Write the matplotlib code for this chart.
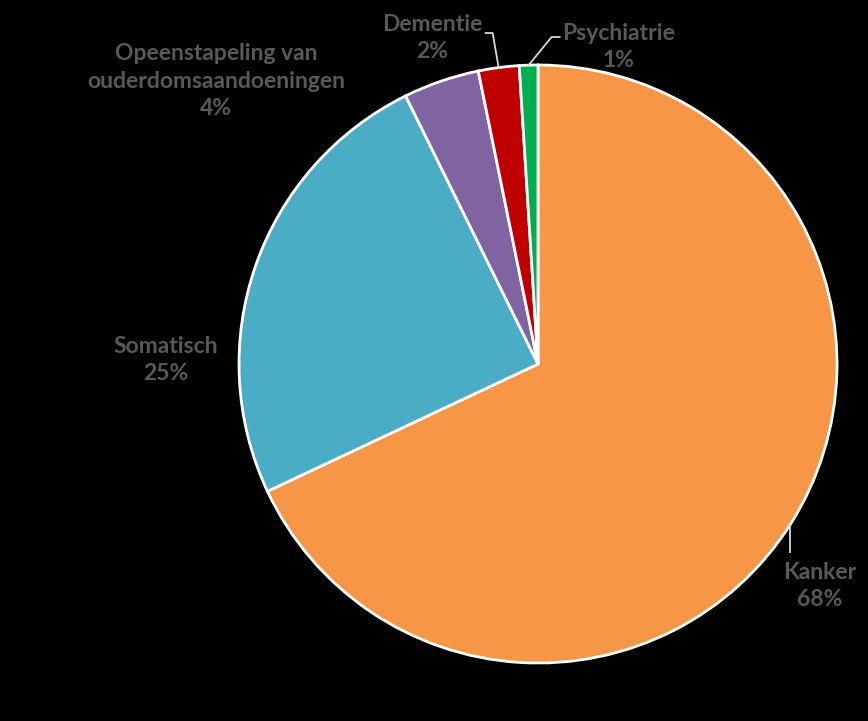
import numpy as np
import matplotlib
matplotlib.use("Agg")
import matplotlib.pyplot as plt

# data (slice sizes, labels show rounded values)
labels = ["Kanker", "Somatisch", "Opeenstapeling van\nouderdomsaandoeningen", "Dementie", "Psychiatrie"]
values = [68.0, 24.7, 4.1, 2.2, 1.0]
colors = ["#F79646", "#4BACC6", "#8064A2", "#C00000", "#00B050"]

W, H = 868, 721
fig = plt.figure(figsize=(W / 100, H / 100), dpi=100, facecolor="black")
ax = fig.add_axes([0, 0, 1, 1])
ax.set_facecolor("black")

cx, cy, r = 538, H - 364, 299
wedges, _ = ax.pie(values, colors=colors, startangle=90, counterclock=False,
                   center=(cx, cy), radius=r, frame=True,
                   wedgeprops=dict(edgecolor="white", linewidth=2))
ax.set_xlim(0, W)
ax.set_ylim(0, H)
ax.set_aspect("equal")
ax.axis("off")

text_kw = dict(color="#595959", fontsize=16.5, fontweight="bold", family="Lato",
               ha="center", va="center", linespacing=1.41)

# label text positions (pixels from top-left)
label_pos = [(820, 586), (166, 360), (216, 81), (432, 38), (619, 47)]
for w, lab, v, (lx, ly) in zip(wedges, labels, values, label_pos):
    ax.text(lx, H - ly, "{}\n{:.0f}%".format(lab, v), **text_kw)

def edge_point(w):
    a = np.deg2rad((w.theta1 + w.theta2) / 2)
    return cx + r * np.cos(a), cy + r * np.sin(a)

line_kw = dict(color="#D9D9D9", linewidth=1.3)
# Kanker leader
x0, y0 = edge_point(wedges[0])
ax.plot([x0, x0], [y0, H - 552], **line_kw)
# Dementie leader
x0, y0 = edge_point(wedges[3])
ax.plot([x0, x0 - 6, x0 - 13], [y0, H - 33, H - 33], **line_kw)
# Psychiatrie leader
x0, y0 = edge_point(wedges[4])
ax.plot([x0, x0 + 23, x0 + 31], [y0, H - 37, H - 37], **line_kw)

fig.savefig("out.png", dpi=100, facecolor="black")
